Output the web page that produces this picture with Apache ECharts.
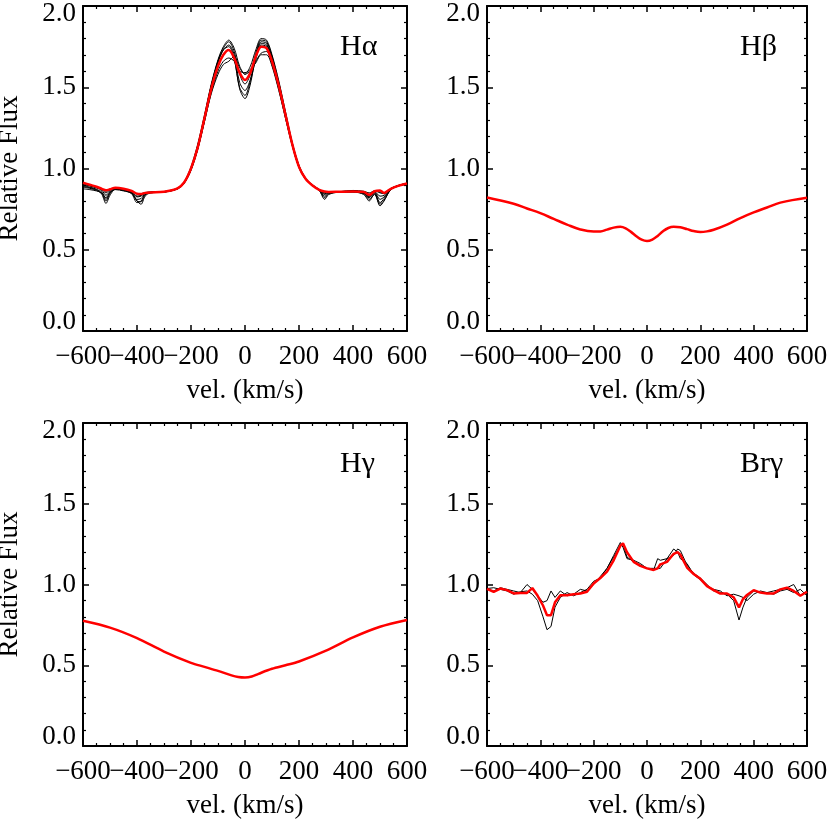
<!DOCTYPE html>
<html>
<head>
<meta charset="utf-8">
<script src="https://cdn.jsdelivr.net/npm/echarts@6/dist/echarts.min.js"></script>
<style>
  html, body { margin: 0; padding: 0; background: #fff; }
  #chart { width: 830px; height: 830px; }
</style>
</head>
<body>
<div id="chart"></div>
<script>
// H-alpha: several epochs (black) and their mean (red)
const haVel = [-600, -575, -550, -530, -515, -500, -480, -450, -420, -400, -385, -370, -350, -300,
  -250, -225, -200, -175, -150, -125, -100, -80, -60, -40, -20, 0, 20, 40, 60, 80, 100, 125, 150, 175, 200, 225, 250, 275,
  295, 310, 350, 400, 440, 460, 480, 500, 515, 540, 570, 600]
const haMean = [0.912, 0.90, 0.888, 0.875, 0.866, 0.872, 0.882, 0.876, 0.862, 0.845, 0.843, 0.85, 0.853, 0.857,
  0.878, 0.915, 1.00, 1.13, 1.31, 1.49, 1.63, 1.70, 1.73, 1.68, 1.59, 1.545, 1.59, 1.69, 1.75, 1.74, 1.66, 1.51, 1.33, 1.15, 1.01, 0.935, 0.895, 0.868,
  0.858, 0.856, 0.857, 0.858, 0.855, 0.838, 0.86, 0.865, 0.85, 0.875, 0.895, 0.908]
const haEpochs = [
  [0.905, 0.895, 0.885, 0.87, 0.85, 0.868, 0.88, 0.872, 0.86, 0.83, 0.835, 0.85, 0.855, 0.858,
    0.88, 0.92, 1.01, 1.15, 1.33, 1.52, 1.67, 1.75, 1.79, 1.74, 1.63, 1.58, 1.63, 1.73, 1.80, 1.79, 1.70, 1.54, 1.35, 1.16, 1.02, 0.94, 0.90, 0.872,
    0.85, 0.855, 0.858, 0.86, 0.856, 0.84, 0.862, 0.85, 0.845, 0.878, 0.897, 0.91],
  [0.895, 0.885, 0.872, 0.84, 0.785, 0.835, 0.872, 0.868, 0.85, 0.80, 0.78, 0.83, 0.85, 0.855,
    0.876, 0.915, 1.00, 1.14, 1.32, 1.51, 1.66, 1.74, 1.78, 1.72, 1.58, 1.52, 1.58, 1.71, 1.79, 1.78, 1.69, 1.53, 1.34, 1.155, 1.015, 0.937, 0.897, 0.865,
    0.81, 0.84, 0.855, 0.857, 0.85, 0.81, 0.84, 0.77, 0.80, 0.87, 0.893, 0.905],
  [0.885, 0.878, 0.865, 0.845, 0.80, 0.845, 0.875, 0.865, 0.845, 0.79, 0.80, 0.84, 0.852, 0.856,
    0.876, 0.912, 0.995, 1.13, 1.31, 1.50, 1.65, 1.73, 1.76, 1.70, 1.53, 1.48, 1.55, 1.69, 1.78, 1.77, 1.68, 1.52, 1.33, 1.15, 1.01, 0.935, 0.895, 0.866,
    0.83, 0.848, 0.856, 0.857, 0.845, 0.82, 0.85, 0.79, 0.815, 0.872, 0.895, 0.907],
  [0.875, 0.87, 0.862, 0.85, 0.82, 0.855, 0.87, 0.862, 0.848, 0.81, 0.815, 0.845, 0.852, 0.855,
    0.874, 0.91, 0.99, 1.12, 1.30, 1.49, 1.63, 1.70, 1.73, 1.67, 1.50, 1.45, 1.54, 1.67, 1.76, 1.75, 1.67, 1.51, 1.33, 1.15, 1.01, 0.933, 0.894, 0.866,
    0.84, 0.85, 0.856, 0.858, 0.848, 0.825, 0.855, 0.81, 0.825, 0.874, 0.895, 0.906],
  [0.91, 0.898, 0.888, 0.875, 0.86, 0.872, 0.882, 0.875, 0.862, 0.845, 0.845, 0.852, 0.855, 0.858,
    0.878, 0.91, 0.99, 1.12, 1.29, 1.46, 1.58, 1.64, 1.66, 1.69, 1.62, 1.58, 1.60, 1.66, 1.71, 1.72, 1.64, 1.49, 1.31, 1.14, 1.005, 0.932, 0.895, 0.87,
    0.855, 0.856, 0.857, 0.865, 0.86, 0.85, 0.862, 0.855, 0.85, 0.876, 0.897, 0.909],
  [0.90, 0.892, 0.88, 0.865, 0.835, 0.86, 0.878, 0.87, 0.855, 0.825, 0.83, 0.848, 0.853, 0.857,
    0.877, 0.912, 0.995, 1.12, 1.29, 1.47, 1.60, 1.66, 1.68, 1.66, 1.60, 1.59, 1.61, 1.65, 1.70, 1.70, 1.63, 1.48, 1.31, 1.14, 1.005, 0.932, 0.894, 0.868,
    0.845, 0.852, 0.858, 0.862, 0.85, 0.83, 0.858, 0.83, 0.835, 0.876, 0.896, 0.908],
  [0.89, 0.882, 0.87, 0.855, 0.81, 0.85, 0.874, 0.866, 0.852, 0.80, 0.795, 0.838, 0.85, 0.855,
    0.875, 0.913, 1.00, 1.14, 1.32, 1.51, 1.66, 1.73, 1.75, 1.68, 1.49, 1.43, 1.52, 1.69, 1.77, 1.76, 1.68, 1.52, 1.33, 1.15, 1.01, 0.935, 0.895, 0.866,
    0.82, 0.845, 0.855, 0.855, 0.84, 0.80, 0.845, 0.78, 0.805, 0.87, 0.893, 0.905]
]

// H-beta mean
const hbVel = [-600, -500, -450, -400, -350, -300, -250, -200, -175, -150, -125, -100, -80, -60, -40, -20, 0,
  20, 40, 60, 80, 100, 125, 150, 175, 200, 225, 250, 300, 350, 400, 450, 500, 600]
const hbMean = [0.822, 0.783, 0.754, 0.725, 0.69, 0.655, 0.625, 0.612, 0.613, 0.624, 0.636, 0.641, 0.632, 0.61, 0.583, 0.562, 0.554,
  0.563, 0.585, 0.614, 0.634, 0.641, 0.638, 0.627, 0.615, 0.609, 0.613, 0.623, 0.655, 0.695, 0.73, 0.76, 0.79, 0.82]

// H-gamma mean
const hgVel = [-600, -500, -400, -300, -200, -150, -100, -50, -25, 0, 25, 50, 100, 150, 200, 300, 400, 500, 600]
const hgMean = [0.775, 0.733, 0.668, 0.585, 0.515, 0.49, 0.465, 0.437, 0.427, 0.424, 0.43, 0.447, 0.478, 0.50, 0.523, 0.59, 0.672, 0.738, 0.78]

// Br-gamma: two epochs and mean
const brVel = [-600, -575, -550, -525, -500, -475, -450, -430, -410, -390, -375, -360, -345, -325, -300, -275, -250, -225, -200, -175,
  -150, -125, -100, -90, -75, -50, -25, 0, 25, 40, 50, 75, 100, 115, 125, 150, 175, 200, 225, 250, 275, 300, 325, 345, 360, 375,
  400, 425, 450, 475, 500, 525, 550, 575, 600]
const brMean = [0.973, 0.955, 0.975, 0.965, 0.945, 0.948, 0.948, 0.978, 0.93, 0.87, 0.81, 0.81, 0.89, 0.934, 0.934, 0.94, 0.944, 0.955, 1.006, 1.04,
  1.08, 1.15, 1.24, 1.255, 1.20, 1.14, 1.115, 1.10, 1.09, 1.10, 1.125, 1.14, 1.19, 1.20, 1.185, 1.105, 1.065, 1.035, 0.99, 0.965, 0.944, 0.944, 0.92, 0.858, 0.91, 0.935,
  0.965, 0.95, 0.944, 0.944, 0.97, 0.98, 0.96, 0.93, 0.955]
const brEpochA = [0.975, 0.98, 0.97, 0.96, 0.94, 0.955, 0.96, 0.94, 0.90, 0.80, 0.72, 0.74, 0.86, 0.92, 0.95, 0.93, 0.95, 0.97, 1.02, 1.04,
  1.10, 1.17, 1.24, 1.25, 1.17, 1.14, 1.12, 1.10, 1.10, 1.10, 1.10, 1.16, 1.18, 1.22, 1.21, 1.12, 1.07, 1.04, 1.00, 0.96, 0.95, 0.94, 0.90, 0.78, 0.86, 0.92,
  0.96, 0.95, 0.95, 0.94, 0.96, 0.97, 0.95, 0.97, 0.93]
const brEpochB = [0.97, 0.96, 0.98, 0.97, 0.96, 0.95, 1.00, 0.97, 0.93, 0.89, 0.90, 0.96, 0.92, 0.96, 0.93, 0.94, 0.97, 0.96, 1.00, 1.05,
  1.10, 1.18, 1.26, 1.23, 1.16, 1.15, 1.13, 1.10, 1.09, 1.16, 1.15, 1.16, 1.22, 1.20, 1.16, 1.13, 1.06, 1.03, 0.99, 0.97, 0.96, 0.93, 0.94, 0.93, 0.92, 0.90,
  0.94, 0.96, 0.95, 0.96, 0.97, 0.98, 1.00, 0.93, 0.96]

const panelNames = ['H\u03b1', 'H\u03b2', 'H\u03b3', 'Br\u03b3']
const xTicks = [-600, -400, -200, 0, 200, 400, 600]
const yTicks = [0.0, 0.5, 1.0, 1.5, 2.0]

const font = '"Liberation Serif", "Times New Roman", serif'
const grids = [
  { left: 83, top: 6, width: 324, height: 325, outerBoundsMode: 'none' },
  { left: 487, top: 6, width: 320, height: 325, outerBoundsMode: 'none' },
  { left: 83, top: 423, width: 324, height: 323, outerBoundsMode: 'none' },
  { left: 487, top: 423, width: 320, height: 323, outerBoundsMode: 'none' }
]

function pairs(vel, flux) {
  return vel.map((v, i) => [v, flux[i]])
}

function velLabel(v) {
  return v < 0 ? '\u2212' + (-v) : String(v)
}

// the x tick labels touch each other, so they are split over two axes
// (odd / even ticks) to keep echarts from dropping any of them
function xAxis(gi, kind) {
  const main = kind === 'main'
  const extra = kind === 'extra'
  const parity = main ? 0 : 1
  return {
    type: 'value', gridIndex: gi, position: kind === 'top' ? 'top' : 'bottom',
    min: xTicks[0], max: xTicks[xTicks.length - 1], interval: 200,
    axisLine: { show: !extra, onZero: false, lineStyle: { color: '#000', width: 2 } },
    axisTick: { show: !extra, inside: true, length: 6, lineStyle: { color: '#000', width: 1.5 } },
    minorTick: { show: !extra, splitNumber: 4, length: 3, lineStyle: { color: '#000', width: 1.2 } },
    splitLine: { show: false },
    axisLabel: {
      show: main || extra, margin: 12, color: '#000', fontFamily: font, fontSize: 27,
      showMinLabel: true, showMaxLabel: true, hideOverlap: false,
      formatter: v => (xTicks.indexOf(v) % 2 === parity ? velLabel(v) : '')
    },
    name: main ? 'vel. (km/s)' : '', nameLocation: 'middle', nameGap: 46, nameMoveOverlap: false,
    nameTextStyle: { color: '#000', fontFamily: font, fontSize: 27 }
  }
}

// end labels sit just inside the frame, as in the original plot
const endStyle = { fontFamily: font, fontSize: 27, color: '#000' }
function fluxLabel(v) {
  if (v === yTicks[yTicks.length - 1]) return '{top|' + v.toFixed(1) + '}'
  if (v === yTicks[0]) return '{bot|' + v.toFixed(1) + '}'
  return v.toFixed(1)
}

function yAxis(gi, position) {
  const main = position === 'left'
  return {
    type: 'value', gridIndex: gi, position: position,
    min: yTicks[0], max: yTicks[yTicks.length - 1], interval: 0.5,
    axisLine: { show: true, onZero: false, lineStyle: { color: '#000', width: 2 } },
    axisTick: { show: true, inside: true, length: 6, lineStyle: { color: '#000', width: 1.5 } },
    minorTick: { show: true, splitNumber: 5, length: 3, lineStyle: { color: '#000', width: 1.2 } },
    splitLine: { show: false },
    axisLabel: {
      show: main, margin: 7, color: '#000', fontFamily: font, fontSize: 27,
      formatter: fluxLabel,
      rich: {
        top: Object.assign({ padding: [16, 0, 0, 0] }, endStyle),
        bot: Object.assign({ padding: [0, 0, 18, 0] }, endStyle)
      }
    },
    name: (main && gi % 2 === 0) ? 'Relative Flux' : '', nameLocation: 'middle', nameGap: 60, nameRotate: 90,
    nameMoveOverlap: false,
    nameTextStyle: { color: '#000', fontFamily: font, fontSize: 27 }
  }
}

const xAxes = []
const yAxes = []
for (let g = 0; g < 4; g++) {
  xAxes.push(xAxis(g, 'main'), xAxis(g, 'top'), xAxis(g, 'extra'))
  yAxes.push(yAxis(g, 'left'), yAxis(g, 'right'))
}

function line(g, data, color, width, smooth) {
  return {
    type: 'line', xAxisIndex: g * 3, yAxisIndex: g * 2, data: data,
    showSymbol: false, smooth: smooth, silent: true, z: color === '#000' ? 2 : 3,
    lineStyle: { color: color, width: width }
  }
}

const series = []
haEpochs.forEach(ep => series.push(line(0, pairs(haVel, ep), '#000', 1, 0.3)))
series.push(line(0, pairs(haVel, haMean), '#ff0000', 2.5, 0.3))
series.push(line(1, pairs(hbVel, hbMean), '#ff0000', 2.5, 0.4))
series.push(line(2, pairs(hgVel, hgMean), '#ff0000', 2.5, 0.3))
series.push(line(3, pairs(brVel, brEpochA), '#000', 1, false))
series.push(line(3, pairs(brVel, brEpochB), '#000', 1, false))
series.push(line(3, pairs(brVel, brMean), '#ff0000', 2.5, false))

const titlePos = [[340, 32], [740, 32], [340, 449], [740, 449]]
const titles = panelNames.map((t, i) => ({
  text: t, left: titlePos[i][0], top: titlePos[i][1], padding: 0,
  textStyle: { color: '#000', fontFamily: font, fontSize: 30, fontWeight: 'normal' }
}))

const chart = echarts.init(document.getElementById('chart'), null, { renderer: 'canvas' })
chart.setOption({
  animation: false,
  backgroundColor: '#fff',
  title: titles,
  grid: grids,
  xAxis: xAxes,
  yAxis: yAxes,
  series: series
})
</script>
</body>
</html>
